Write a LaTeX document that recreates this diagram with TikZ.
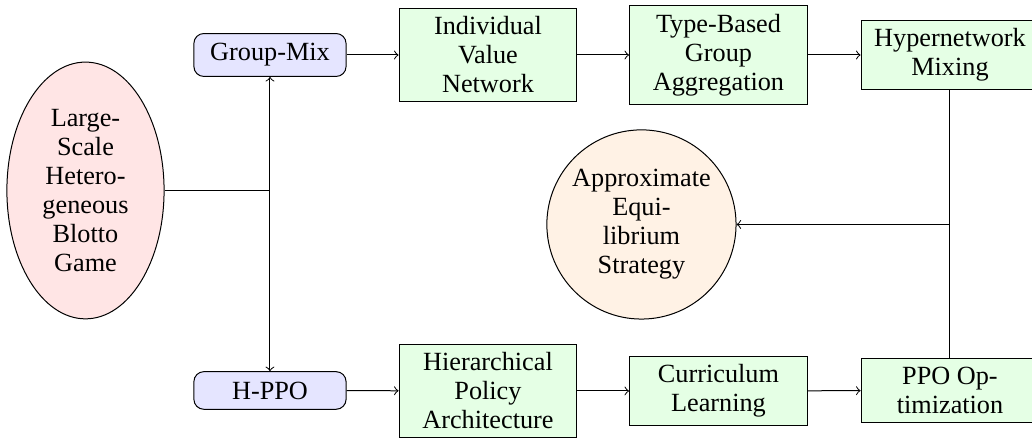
\documentclass[tikz,border=0pt]{standalone}
\usepackage{fontspec}
\setmainfont{Liberation Serif}
\usetikzlibrary{shapes,arrows,positioning,calc}

\begin{document}
\begin{tikzpicture}[
    every node/.style={font=\fontsize{10.5}{11.6}\selectfont},
    gamenode/.style={draw, ellipse, fill=red!10, inner sep=1pt, minimum width=2.21cm, minimum height=3.61cm, align=center},
    methodbox/.style={draw, rectangle, rounded corners, fill=blue!10, inner ysep=4pt, minimum width=2.14cm, align=center},
    stagebox/.style={draw, rectangle, fill=green!10, minimum width=2.5cm, align=center},
    resultnode/.style={draw, circle, fill=orange!10, inner sep=0.5pt, minimum size=2.66cm, align=center}
]
\useasboundingbox (0,0) rectangle (14.51,-6.158);

% 博弈问题
\node[gamenode] (game) at (1.202,-2.678) {Large-\\Scale\\Hetero-\\geneous\\Blotto\\Game};

% 两种方法
\node[methodbox] (groupmix) at (3.796,-0.773) {Group-Mix};
\node[methodbox] (hppo) at (3.796,-5.490) {H-PPO};

% Group-Mix 分支
\node[stagebox] (indiv) at (6.861,-0.773) {Individual\\Value\\Network};
\node[stagebox] (typeagg) at (10.102,-0.773) {Type-Based\\Group\\Aggregation};
\node[stagebox] (hyper) at (13.357,-0.773) {Hypernetwork\\Mixing};

% H-PPO 分支
\node[stagebox] (hier) at (6.861,-5.497) {Hierarchical\\Policy\\Architecture};
\node[stagebox] (curric) at (10.102,-5.497) {Curriculum\\Learning};
\node[stagebox] (ppo) at (13.357,-5.490) {PPO Op-\\timization};

% 结果
\node[resultnode] (approx) at (9.019,-3.156) {Approximate\\Equi-\\librium\\Strategy};

% 连接线
\coordinate (split) at (game.east -| groupmix.south);
\draw (game.east) -- (split);
\draw[->] (split) -- (groupmix.south);
\draw[->] (split) -- (hppo.north);

\draw[->] (groupmix) -- (indiv);
\draw[->] (indiv) -- (typeagg);
\draw[->] (typeagg) -- (hyper);

\draw[->] (hppo) -- (hier);
\draw[->] (hier) -- (curric);
\draw[->] (curric) -- (ppo);

\coordinate (merge) at (approx.east -| hyper.south);
\draw (hyper.south) -- (ppo.north);
\draw[->] (merge) -- (approx.east);
\end{tikzpicture}
\end{document}
